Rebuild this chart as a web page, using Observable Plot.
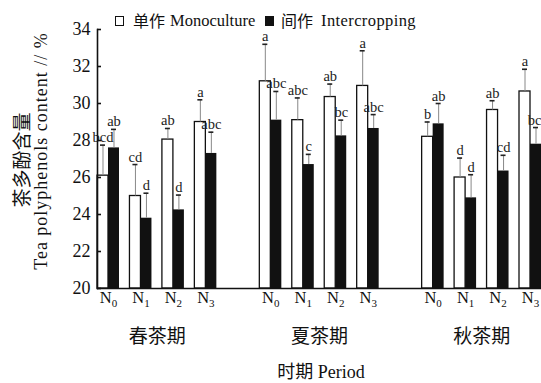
<!DOCTYPE html>
<html><head><meta charset="utf-8">
<script src="https://cdn.jsdelivr.net/npm/d3@7"></script>
<script src="https://cdn.jsdelivr.net/npm/@observablehq/plot@0.6"></script>
<style>
html,body{margin:0;padding:0;background:#fff;overflow:hidden}
#wrap{position:relative;width:541px;height:383px;overflow:hidden}
.ov{position:absolute;white-space:nowrap;color:#111;line-height:1}
.serif{font-family:"Liberation Serif","Noto Sans CJK SC",serif}
.cjk{font-family:"Noto Sans CJK SC",sans-serif}
.sq{position:absolute;width:9px;height:10px;box-sizing:border-box;border:1.2px solid #111}
</style></head>
<body><div id="wrap">
<div id="chart"></div>
<div class="sq" style="left:115px;top:16px;background:#fff"></div>
<div class="ov cjk" style="left:133px;top:12px;font-size:16px">单作</div>
<div class="ov serif" style="left:170px;top:13px;font-size:16.5px;letter-spacing:0px">Monoculture</div>
<div class="sq" style="left:265px;top:16px;background:#111"></div>
<div class="ov cjk" style="left:281px;top:12px;font-size:16px">间作</div>
<div class="ov serif" style="left:321px;top:13px;font-size:16.5px;letter-spacing:0.4px">Intercropping</div>
<div class="ov cjk" style="left:20px;top:160px;font-size:19px;transform:translate(-50%,-50%) rotate(-90deg)">茶多酚含量</div>
<div class="ov serif" style="left:41px;top:151px;font-size:18px;letter-spacing:1px;transform:translate(-50%,-50%) rotate(-90deg)">Tea polyphenols content // %</div>
<div class="ov" style="left:321px;top:371px;font-size:18px;transform:translate(-50%,-50%)"><span class="cjk">时期</span><span class="serif"> Period</span></div>
</div>
<script>
const periods = ["春茶期", "夏茶期", "秋茶期"];
const nLevels = ["N0", "N1", "N2", "N3"];
const yDomain = [20, 34];
const yTicks = [20, 22, 24, 26, 28, 30, 32, 34];
// 单作 Monoculture (mean, SD) — spring N0..N3, summer N0..N3, autumn N0..N3
const monoMean = [26.1, 25.0, 28.05, 29.0, 31.2, 29.1, 30.35, 30.95, 28.2, 26.0, 29.65, 30.65];
const monoSD   = [1.65, 1.7, 0.6, 1.2, 2.0, 1.2, 0.7, 1.9, 0.8, 1.05, 0.5, 1.2];
const monoLetters = ["bcd", "cd", "ab", "a", "a", "abc", "ab", "a", "b", "d", "ab", "a"];
// 间作 Intercropping
const interMean = [27.6, 23.8, 24.25, 27.3, 29.1, 26.7, 28.25, 28.65, 28.9, 24.9, 26.35, 27.8];
const interSD   = [1.0, 1.35, 0.8, 1.15, 1.55, 0.55, 0.85, 0.75, 1.1, 1.25, 0.85, 0.9];
const interLetters = ["ab", "d", "d", "abc", "abc", "c", "bc", "abc", "ab", "d", "cd", "bc"];

const rows = [];
periods.forEach((p, i) => nLevels.forEach((n, j) => {
  const k = i * 4 + j;
  rows.push({period: p, n, mono: monoMean[k], monoTop: monoMean[k] + monoSD[k], monoLetter: monoLetters[k],
             inter: interMean[k], interTop: interMean[k] + interSD[k], interLetter: interLetters[k], last: k === 11});
}));

const half = 11;
const serif = "'Liberation Serif','Noto Sans CJK SC',serif";
const plot = Plot.plot({
  width: 541, height: 383,
  marginLeft: 97, marginRight: 0, marginTop: 29, marginBottom: 95,
  style: {fontFamily: serif, fontSize: "16px", color: "#111", background: "white"},
  fx: {domain: periods, paddingInner: 0.2647, paddingOuter: 0, round: false},
  x: {domain: nLevels, paddingInner: 0.3222, paddingOuter: 0, round: false},
  y: {domain: yDomain},
  marks: [
    Plot.barY(rows, {fx: "period", x: "n", y1: yDomain[0], y2: "mono", fill: "white", stroke: "#111", strokeWidth: 1.3, insetRight: half}),
    Plot.barY(rows, {fx: "period", x: "n", y1: yDomain[0], y2: "inter", fill: "#111", insetLeft: half}),
    Plot.ruleX(rows, {fx: "period", x: "n", y1: "mono", y2: "monoTop", dx: -half / 2, stroke: "#888", strokeWidth: 1}),
    Plot.ruleX(rows, {fx: "period", x: "n", y1: "inter", y2: "interTop", dx: half / 2, stroke: "#888", strokeWidth: 1}),
    Plot.tickY(rows, {fx: "period", x: "n", y: "monoTop", insetLeft: 3, insetRight: 14, stroke: "#222", strokeWidth: 1.6}),
    Plot.tickY(rows, {fx: "period", x: "n", y: "interTop", insetLeft: 14, insetRight: 3, stroke: "#222", strokeWidth: 1.6}),
    Plot.text(rows, {fx: "period", x: "n", y: "monoTop", text: "monoLetter", dx: -half / 2, dy: -3, lineAnchor: "bottom", fontSize: 14.5, fontFamily: serif, fill: "#222"}),
    Plot.text(rows, {filter: (d) => !d.last, fx: "period", x: "n", y: "interTop", text: "interLetter", dx: half / 2, dy: -3, lineAnchor: "bottom", fontSize: 14.5, fontFamily: serif, fill: "#222"}),
    Plot.text(rows, {filter: (d) => d.last, fx: "period", x: "n", y: "interTop", text: "interLetter", dx: half, dy: -3, textAnchor: "end", lineAnchor: "bottom", fontSize: 14.5, fontFamily: serif, fill: "#222"}),
    Plot.frame({anchor: "left", facet: "super", stroke: "#111", strokeWidth: 1.6}),
    Plot.frame({anchor: "bottom", facet: "super", stroke: "#111", strokeWidth: 1.6}),
    Plot.axisY({ticks: yTicks, tickSize: -4, tickPadding: 11, strokeWidth: 1.6, fontSize: 18, fontFamily: serif, fill: "#111", label: null}),
    Plot.axisX({tickSize: 0, tickPadding: 3, fontSize: 16.5, fontFamily: serif, fill: "#111", label: null}),
    Plot.axisFx({anchor: "bottom", tickSize: 0, tickPadding: 41, fontSize: 19, fontFamily: "'Noto Sans CJK SC',sans-serif", fill: "#111", label: null})
  ]
});
document.getElementById("chart").append(plot);
d3.select(plot).selectAll('g[aria-label="x-axis tick label"] text').each(function() {
  const t = d3.select(this);
  const s = t.text();
  t.text("");
  t.append("tspan").text(s[0]);
  t.append("tspan").attr("dy", "0.3em").attr("font-size", 11).text(s.slice(1));
});
</script>
</body></html>
